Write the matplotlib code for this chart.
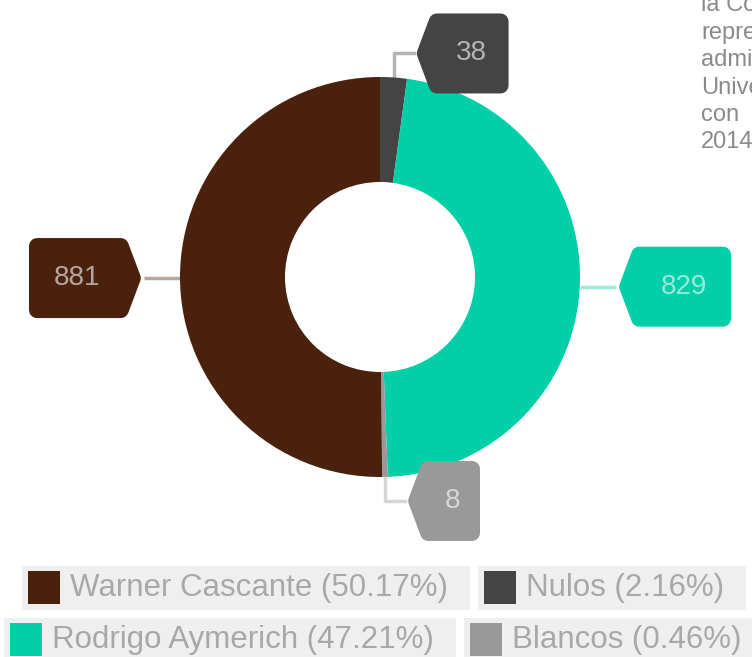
import matplotlib
matplotlib.use('Agg')
import matplotlib.pyplot as plt
from matplotlib.patches import Polygon, Rectangle
import numpy as np

names = ['Nulos', 'Rodrigo Aymerich', 'Blancos', 'Warner Cascante']
votes = [38, 829, 8, 881]
colors = ['#444444', '#00cfa8', '#999999', '#4a210d']

note_lines = ['la Comisión', 'representantes', 'administrativos', 'Universidad', 'con', '2014']

plt.rcParams['font.family'] = ['Liberation Sans', 'DejaVu Sans']

W, H = 752, 657
fig = plt.figure(figsize=(W / 100, H / 100), dpi=100)
ax = fig.add_axes([0, 0, 1, 1])
cx, cy, R = 380, 277, 200

wedges, _ = ax.pie(votes, colors=colors, startangle=90, counterclock=False,
                   radius=1, wedgeprops=dict(width=0.525, linewidth=0))
ax.set_xlim(-cx / R, (W - cx) / R)
ax.set_ylim(-(H - cy) / R, cy / R)
ax.set_aspect('equal')
ax.axis('off')


def callout(xt, yt, side, label, color):
    # box with arrow point at (xt, yt); side=+1 box to the right
    n = len(label)
    w = 0.175 + 0.1 * n
    h = 0.4
    p = 0.1
    r = 0.04
    base = xt + side * p
    far = base + side * w
    pts = [(xt + side * r * 1.4, yt),
           (base + side * r * 0.4, yt + h / 2 - r),
           (far - side * r, yt + h / 2 - r),
           (far - side * r, yt - h / 2 + r),
           (base + side * r * 0.4, yt - h / 2 + r)]
    lw = 2 * r * R * 0.72
    ax.add_patch(Polygon(pts, closed=True, facecolor=color, edgecolor=color,
                         linewidth=lw, joinstyle='round', zorder=5))
    ax.text((base + far) / 2, yt, label, ha='center', va='center', fontsize=20,
            color='white', alpha=0.6, zorder=6)


for wd, v, c in zip(wedges, votes, colors):
    th = np.deg2rad((wd.theta1 + wd.theta2) / 2)
    px, py = np.cos(th), np.sin(th)
    if abs(px) > 0.5:
        s = np.sign(px)
        xt, yt = s * 1.18, py
        ax.plot([px, xt], [py, py], color=c, alpha=0.4, lw=2.5, zorder=4,
                solid_capstyle='butt')
        callout(xt, yt, s, str(v), c)
    else:
        ye = py + np.sign(py) * 0.12
        xt = px + 0.1
        ax.plot([px, px, xt], [py, ye, ye], color=c, alpha=0.4, lw=2.5, zorder=4)
        callout(xt, ye, 1, str(v), c)

# text at top right, cut by the edge as in the original page
for i, line in enumerate(note_lines):
    fig.text(701 / W, 1 - (5 + i * 27.5) / H, line, fontsize=17, color='#8a8a8a',
             ha='left', va='center')

# legend
total = sum(votes)
order = sorted(range(len(votes)), key=lambda i: -votes[i])
rows = [[order[0], order[2]], [order[1], order[3]]]
row_y = [588, 640]
renderer = fig.canvas.get_renderer()
for row, yc in zip(rows, row_y):
    items = []
    for i in row:
        lab = f'{names[i]} ({votes[i] / total * 100:.2f}%)'
        t = fig.text(0, 1 - yc / H, lab, fontsize=22.5, color='#a8a8a8',
                     ha='left', va='center', zorder=3)
        tw = t.get_window_extent(renderer).width
        items.append((i, t, tw))
    widths = [48 + tw + 22 for _, _, tw in items]
    gap = 8
    x = 384 - (sum(widths) + gap * (len(widths) - 1)) / 2
    for (i, t, tw), ew in zip(items, widths):
        fig.patches.append(Rectangle((x / W, 1 - (yc + 22) / H), ew / W, 44 / H,
                                     transform=fig.transFigure, facecolor='#efefef',
                                     edgecolor='none', zorder=1))
        fig.patches.append(Rectangle(((x + 6) / W, 1 - (yc + 16) / H), 32 / W, 33 / H,
                                     transform=fig.transFigure, facecolor=colors[i],
                                     edgecolor='none', zorder=2))
        t.set_x((x + 48) / W)
        x += ew + gap

fig.savefig('out.png', dpi=100)
